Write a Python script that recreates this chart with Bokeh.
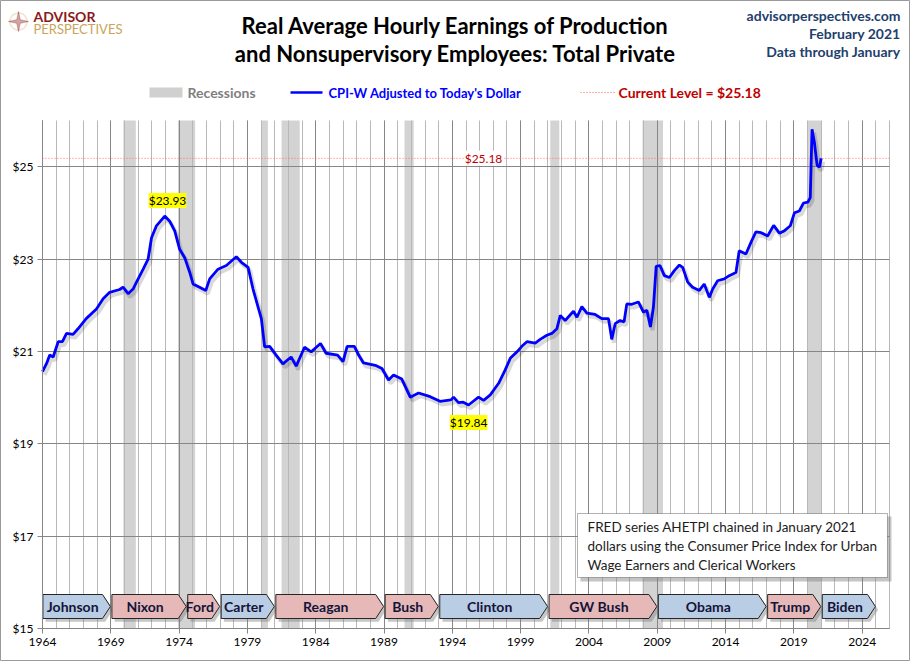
import math
from bokeh.plotting import figure
from bokeh.models import (Range1d, FixedTicker, PrintfTickFormatter, Label, Grid,
                          BoxAnnotation, Arrow, PolyAnnotation)
from bokeh.core.properties import value
from bokeh.embed import file_html
from bokeh.resources import INLINE

# ---------------- data ----------------
years = [1964.00, 1964.30, 1964.53, 1964.78, 1965.15, 1965.46, 1965.76, 1966.24, 1966.60, 1967.20,
         1967.95, 1968.44, 1968.92, 1969.65, 1969.90, 1970.27, 1970.63, 1970.88, 1971.37, 1971.73,
         1971.98, 1972.34, 1972.95, 1973.31, 1973.68, 1974.04, 1974.41, 1974.78, 1975.02, 1975.50,
         1975.95, 1976.24, 1976.85, 1977.46, 1978.19, 1978.56, 1979.05, 1979.41, 1979.78, 1980.02,
         1980.26, 1980.63, 1981.10, 1981.60, 1982.20, 1982.57, 1983.18, 1983.67, 1984.35, 1984.76,
         1985.60, 1986.00, 1986.30, 1986.83, 1987.14, 1987.50, 1988.36, 1988.85, 1989.33, 1989.70,
         1990.30, 1990.92, 1991.53, 1992.38, 1993.10, 1993.90, 1994.09, 1994.45, 1994.80, 1995.19,
         1995.92, 1996.29, 1996.78, 1997.39, 1997.87, 1998.24, 1998.73, 1999.09, 1999.46, 2000.07,
         2000.43, 2000.92, 2001.29, 2001.65, 2001.90, 2002.26, 2002.87, 2003.12, 2003.48, 2003.85,
         2004.45, 2004.94, 2005.43, 2005.67, 2005.92, 2006.28, 2006.57, 2006.77, 2007.14, 2007.62,
         2007.99, 2008.24, 2008.50, 2008.72, 2008.92, 2009.20, 2009.52, 2009.89, 2010.25, 2010.62,
         2010.86, 2011.23, 2011.59, 2012.08, 2012.44, 2012.81, 2013.06, 2013.42, 2013.91, 2014.27,
         2014.76, 2015.00, 2015.49, 2015.86, 2016.22, 2016.60, 2017.08, 2017.52, 2017.94, 2018.30,
         2018.74, 2019.04, 2019.40, 2019.70, 2020.02, 2020.20, 2020.33, 2020.50, 2020.70, 2020.87,
         2021.00]
earnings = [20.56, 20.74, 20.92, 20.88, 21.21, 21.21, 21.39, 21.37, 21.49, 21.71,
            21.92, 22.14, 22.28, 22.34, 22.39, 22.25, 22.35, 22.50, 22.78, 23.00,
            23.46, 23.72, 23.93, 23.82, 23.61, 23.21, 23.03, 22.71, 22.46, 22.39,
            22.32, 22.57, 22.78, 22.86, 23.05, 22.93, 22.82, 22.35, 21.96, 21.71,
            21.10, 21.11, 20.92, 20.73, 20.88, 20.68, 21.09, 20.99, 21.17, 20.96,
            20.92, 20.78, 21.11, 21.11, 20.92, 20.75, 20.70, 20.63, 20.38, 20.49,
            20.40, 20.01, 20.10, 20.02, 19.92, 19.95, 20.01, 19.89, 19.90, 19.84,
            20.01, 19.94, 20.06, 20.31, 20.60, 20.85, 20.99, 21.11, 21.21, 21.18,
            21.26, 21.35, 21.39, 21.49, 21.78, 21.67, 21.87, 21.74, 21.97, 21.83,
            21.80, 21.71, 21.71, 21.26, 21.60, 21.67, 21.64, 22.03, 22.02, 22.07,
            21.85, 21.89, 21.53, 21.96, 22.84, 22.86, 22.64, 22.60, 22.75, 22.87,
            22.82, 22.50, 22.39, 22.32, 22.46, 22.17, 22.35, 22.53, 22.57, 22.64,
            22.71, 23.18, 23.11, 23.36, 23.59, 23.57, 23.50, 23.73, 23.56, 23.61,
            23.72, 24.00, 24.04, 24.21, 24.23, 24.33, 25.81, 25.53, 25.03, 24.99,
            25.18]

rec_start = [1969.92, 1973.92, 1980.00, 1981.50, 1990.50, 2001.17, 2007.92, 2020.00]
rec_end = [1970.83, 1975.17, 1980.50, 1982.83, 1991.17, 2001.83, 2009.42, 2021.00]

presidents = ["Johnson", "Nixon", "Ford", "Carter", "Reagan", "Bush", "Clinton",
              "GW Bush", "Obama", "Trump", "Biden"]
pres_start = [1964.00, 1969.05, 1974.60, 1977.05, 1981.05, 1989.05, 1993.05,
              2001.05, 2009.05, 2017.05, 2021.05]
pres_end = [1969.05, 1974.60, 1977.05, 1981.05, 1989.05, 1993.05, 2001.05,
            2009.05, 2017.05, 2021.05, 2025.05]
pres_party = ["D", "R", "R", "D", "R", "R", "D", "R", "D", "R", "D"]

x_ticks = list(range(1964, 2025, 5))
x_minor = list(range(1964, 2027))
y_ticks = [15, 17, 19, 21, 23, 25]

current = earnings[-1]
pre = [(v, y) for y, v in zip(years, earnings) if y < 2000]
peak_val, peak_year = max(pre)
low_val, low_year = min(pre)

FONT = "Lato"

# ---------------- geometry ----------------
W, H = 910, 661
FL, FR, FT, FB = 42, 889, 120, 628          # plot-area edges in page pixels
X0, X1, Y0, Y1 = 1964, 2026, 15, 26


def dx(px):
    return X0 + (px - FL) * (X1 - X0) / (FR - FL)


def dy(py):
    return Y1 - (py - FT) * (Y1 - Y0) / (FB - FT)


p = figure(width=W, height=H, x_range=Range1d(dx(0), dx(W)), y_range=Range1d(dy(H), dy(0)),
           min_border=0, toolbar_location=None, output_backend="svg")
p.outline_line_color = "#9a9a9a"

# axes fixed at the edges of the data area
p.xaxis.fixed_location = Y0
p.yaxis.fixed_location = X0
p.xaxis.bounds = (X0, X1)
p.yaxis.bounds = (Y0, Y1)
p.xaxis.ticker = FixedTicker(ticks=x_ticks, minor_ticks=x_minor)
p.yaxis.ticker = FixedTicker(ticks=y_ticks)
p.yaxis.formatter = PrintfTickFormatter(format="$%d")
for ax in (p.xaxis, p.yaxis):
    ax.axis_line_color = "#868686"
    ax.major_tick_line_color = "#868686"
    ax.major_tick_out = 5
    ax.major_tick_in = 0
    ax.minor_tick_out = 0
    ax.minor_tick_in = 0
    ax.major_label_text_font = FONT
    ax.major_label_text_font_size = "12px"
    ax.major_label_text_color = "#000000"
    ax.major_label_standoff = 4

# grid limited to the data area
if "cross_bounds" in Grid.properties():
    p.xgrid.bounds = (X0, X1)
    p.ygrid.bounds = (Y0, Y1)
    p.xgrid.cross_bounds = (Y0, Y1)
    p.ygrid.cross_bounds = (X0, X1)
    p.xgrid.grid_line_color = "#868686"
    p.xgrid.minor_grid_line_color = "#b8b8b8"
    p.ygrid.grid_line_color = "#868686"
else:
    p.grid.visible = False
    minor_only = [t for t in x_minor if t not in x_ticks]
    p.segment(x0=minor_only, x1=minor_only, y0=Y0, y1=Y1, line_color="#b8b8b8", level="underlay")
    p.segment(x0=x_ticks, x1=x_ticks, y0=Y0, y1=Y1, line_color="#868686", level="underlay")
    p.segment(x0=X0, x1=X1, y0=y_ticks, y1=y_ticks, line_color="#868686", level="underlay")

# recessions (below the grid)
p.quad(left=rec_start, right=rec_end, bottom=Y0, top=Y1, fill_color="#d3d3d3",
       line_color=None, level="image")

# current level
p.line(x=[X0, X1], y=[current, current], line_color="#ff7070", line_dash="1 2", line_width=1)

# series with soft shadow
p.line(x=[y + 0.15 for y in years], y=[v - 0.07 for v in earnings],
       line_color="#000000", line_alpha=0.15, line_width=4)
p.line(x=years, y=earnings, line_color="#0000ff", line_width=2.8)

# value labels
p.add_layout(Label(x=dx(483), y=current, text=f"${current:.2f}", text_color="#c00000",
                   text_font=FONT, text_font_size="12px", text_align="center",
                   text_baseline="middle", background_fill_color="white"))
p.add_layout(Label(x=peak_year + 0.2, y=peak_val + 0.34, text=f"${peak_val:.2f}",
                   text_color="#000000", text_font=FONT, text_font_size="12px",
                   text_align="center", text_baseline="middle", background_fill_color="#ffff00"))
p.add_layout(Label(x=low_year, y=low_val - 0.38, text=f"${low_val:.2f}",
                   text_color="#000000", text_font=FONT, text_font_size="12px",
                   text_align="center", text_baseline="middle", background_fill_color="#ffff00"))

# presidents band
y_bot, y_top = dy(618), dy(594)
y_mid = (y_bot + y_top) / 2
tip = 0.58
xs, ys, sxs, sys_, fills, cx = [], [], [], [], [], []
for s, e, party in zip(pres_start, pres_end, pres_party):
    left = s + 0.03
    right = e - 0.08
    px = [left, right - tip, right, right - tip, left]
    py = [y_top, y_top, y_mid, y_bot, y_bot]
    xs.append(px)
    ys.append(py)
    sxs.append([v + 0.2 for v in px])
    sys_.append([v - 0.07 for v in py])
    fills.append("#b9cde5" if party == "D" else "#e6b9b8")
    cx.append((left + right - tip) / 2)
p.patches(xs=sxs, ys=sys_, fill_color="#808080", fill_alpha=0.45, line_color=None)
p.patches(xs=xs, ys=ys, fill_color=fills, line_color="#262626", line_width=1)
p.text(x=cx, y=[y_mid] * len(cx), text=presidents, text_font=value(FONT),
       text_font_size="14px", text_font_style="bold", text_color="#14143a",
       text_align="center", text_baseline="middle")

# note box
p.add_layout(BoxAnnotation(left=dx(580), right=dx(891), top=dy(516), bottom=dy(581),
                           fill_color="#7f7f7f", fill_alpha=0.45, line_color=None))
p.add_layout(BoxAnnotation(left=dx(577), right=dx(887), top=dy(513), bottom=dy(577),
                           fill_color="white", fill_alpha=1.0, line_color="#000000",
                           line_width=1))
note = ["FRED series AHETPI chained in January 2021",
        "dollars using the Consumer Price Index for Urban",
        "Wage Earners and Clerical Workers"]
for txt, py in zip(note, [526, 545, 564]):
    p.add_layout(Label(x=dx(587), y=dy(py), text=txt, text_color="#1c1c1c", text_font=FONT,
                       text_font_size="13.5px", text_align="left", text_baseline="middle"))

# ---------------- header ----------------
# logo
ring = [(18 + 8.5 * math.cos(t * math.pi / 18), 21 + 8.5 * math.sin(t * math.pi / 18))
        for t in range(36)]
p.add_layout(PolyAnnotation(xs=[dx(a) for a, b in ring], ys=[dy(b) for a, b in ring],
                            fill_color=None, line_color="#c9a55a", line_width=1.5))
star = [(18, 11), (19.8, 19.2), (28, 21), (19.8, 22.8), (18, 31), (16.2, 22.8), (8, 21), (16.2, 19.2)]
p.add_layout(PolyAnnotation(xs=[dx(a) for a, b in star], ys=[dy(b) for a, b in star],
                            fill_color="#8b1a1a", line_color="#8b1a1a", line_width=1))
p.add_layout(Label(x=dx(33), y=dy(16), text="ADVISOR", text_font=FONT, text_font_size="14px",
                   text_font_style="bold", text_color="#8b1a1a", text_baseline="middle"))
p.add_layout(Label(x=dx(33), y=dy(28), text="PERSPECTIVES", text_font=FONT,
                   text_font_size="13px", text_color="#c9a55a", text_baseline="middle"))

# title
for txt, py in zip(["Real Average Hourly Earnings of Production",
                    "and Nonsupervisory Employees: Total Private"], [25, 53]):
    p.add_layout(Label(x=dx(455), y=dy(py), text=txt, text_font=FONT, text_font_size="22px",
                       text_font_style="bold", text_color="#000000", text_align="center",
                       text_baseline="middle"))

# top right
for txt, py in zip(["advisorperspectives.com", "February 2021", "Data through January"],
                   [15, 33, 51]):
    p.add_layout(Label(x=dx(900), y=dy(py), text=txt, text_font=FONT, text_font_size="14px",
                       text_font_style="bold", text_color="#1f3f6e", text_align="right",
                       text_baseline="middle"))

# legend
p.add_layout(BoxAnnotation(left=dx(149), right=dx(182), top=dy(87), bottom=dy(97),
                           fill_color="#d0d0d0", fill_alpha=1.0, line_color=None))
p.add_layout(Label(x=dx(187), y=dy(92), text="Recessions", text_font=FONT,
                   text_font_size="14px", text_font_style="bold", text_color="#7f7f7f",
                   text_baseline="middle"))
p.add_layout(Arrow(end=None, x_start=dx(290), y_start=dy(92), x_end=dx(322), y_end=dy(92),
                   line_color="#0000ff", line_width=2.5))
p.add_layout(Label(x=dx(328), y=dy(92), text="CPI-W Adjusted to Today's Dollar",
                   text_font=FONT, text_font_size="13px", text_font_style="bold",
                   text_color="#0000ff", text_baseline="middle"))
p.add_layout(Arrow(end=None, x_start=dx(580), y_start=dy(92), x_end=dx(614), y_end=dy(92),
                   line_color="#ff6060", line_width=1, line_dash="1 2"))
p.add_layout(Label(x=dx(618), y=dy(92), text=f"Current Level = ${current:.2f}",
                   text_font=FONT, text_font_size="14px", text_font_style="bold",
                   text_color="#c00000", text_baseline="middle"))

open("out.html", "w").write(file_html(p, INLINE))
